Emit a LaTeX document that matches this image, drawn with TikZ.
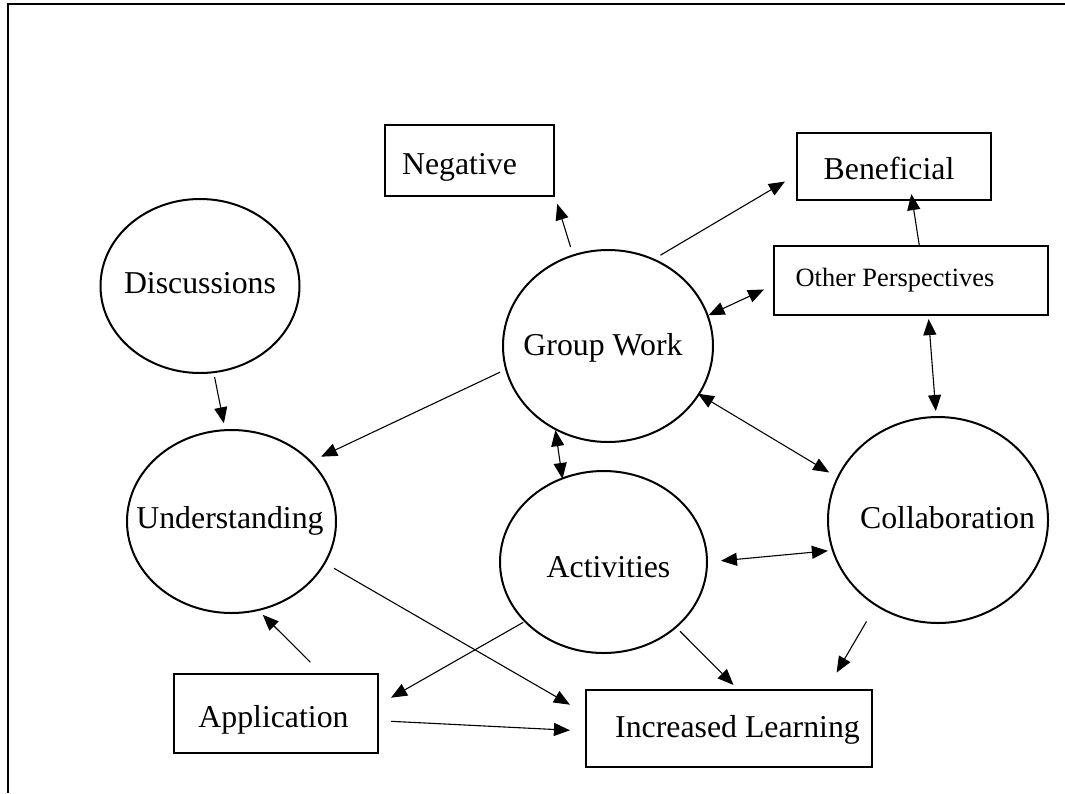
\documentclass[tikz,border=0pt]{standalone}
\usepackage{fontspec}
\setmainfont{Liberation Serif}
\usetikzlibrary{arrows.meta,shapes.geometric}

\begin{document}
\begin{tikzpicture}[x=1pt,y=-1pt,
  oval/.style={draw, ellipse, line width=2pt, inner sep=0pt},
  box/.style={draw, rectangle, line width=2.2pt, inner sep=0pt},
  txt/.style={font=\fontsize{31.8pt}{36pt}\selectfont, anchor=base, inner sep=0pt},
  smalltxt/.style={font=\fontsize{26.4pt}{30pt}\selectfont, anchor=base, inner sep=0pt},
  tip/.tip={Triangle[length=16pt,width=13pt]},
  link/.style={line width=1.1pt, -tip},
  both/.style={line width=1.1pt, tip-tip},
]
\useasboundingbox (0,0) rectangle (1065,793);

% page frame (top and left rules)
\draw[line width=2.2pt] (1065,4) -- (8,4) -- (8,793);

% circles
\node[oval, minimum width=199pt, minimum height=174pt] (disc) at (200,286) {};
\node[oval, minimum width=209pt, minimum height=183pt] (und)  at (231.5,521.5) {};
\node[oval, minimum width=210pt, minimum height=192pt] (gw)   at (608,346) {};
\node[oval, minimum width=207pt, minimum height=182pt] (act)  at (603.5,562) {};
\node[oval, minimum width=220pt, minimum height=206pt] (col)  at (938,520) {};

% boxes
\node[box, minimum width=169pt, minimum height=71pt] (neg) at (469.5,160.5) {};
\node[box, minimum width=194pt, minimum height=67pt] (ben) at (894,166.5) {};
\node[box, minimum width=274pt, minimum height=69pt] (oth) at (911,280.5) {};
\node[box, minimum width=204pt, minimum height=79pt] (app) at (276,713.5) {};
\node[box, minimum width=286pt, minimum height=77pt] (inc) at (729,728.5) {};

% labels
\node[txt] (discT) at ([shift={(0,7)}]disc.center) {Discussions};
\node[txt] (undT)  at ([shift={(-1.5,6.5)}]und.center) {Understanding};
\node[txt] (gwT)   at ([shift={(-5,9)}]gw.center) {Group Work};
\node[txt] (actT)  at ([shift={(5,15)}]act.center) {Activities};
\node[txt] (colT)  at ([shift={(9.5,8)}]col.center) {Collaboration};
\node[txt] (negT)  at ([shift={(-10,13.5)}]neg.center) {Negative};
\node[txt] (benT)  at ([shift={(-5,12.5)}]ben.center) {Beneficial};
\node[smalltxt] (othT) at ([shift={(-16,5.5)}]oth.center) {Other Perspectives};
\node[txt] (appT)  at ([shift={(-2.5,13.5)}]app.center) {Application};
\node[txt] (incT)  at ([shift={(8.5,8.5)}]inc.center) {Increased Learning};

% connectors
\draw[link, shorten <=7.8pt, shorten >=7.4pt] (gw.111) -- (neg.-23);
\draw[link, shorten <=7.1pt, shorten >=12.8pt] (gw.62) -- (ben.185);
\draw[link, shorten >=-7.1pt] (oth.77) -- (ben.-62);
\draw[both, shorten >=9.8pt] (gw.17) -- (oth.182);
\draw[both, shorten <=3pt, shorten >=5pt] (oth.-64) -- (col.91);
\draw[both, shorten <=-2pt, shorten >=9pt] (gw.-28) -- (col.157);
\draw[both, shorten >=-1.5pt] (gw.238) -- (act.116);
\draw[both, shorten <=13pt, shorten >=4pt] (act.0.5) -- (col.196);
\draw[link, shorten <=5.8pt, shorten >=10.6pt] (gw.193) -- (und.37);
\draw[link, shorten <=4pt, shorten >=6pt] (disc.-81) -- (und.94);
\draw[link, shorten <=9.8pt, shorten >=17.3pt] (und.-24) -- (inc.174);
\draw[link, shorten <=15.2pt, shorten >=5.6pt] (app.42) -- (und.-73);
\draw[link, shorten <=1pt, shorten >=13.7pt] (act.217) -- (app.5.5);
\draw[link, shorten <=12pt, shorten >=15pt] (app.-4) -- (inc.181);
\draw[link, shorten <=5pt, shorten >=5.6pt] (act.-42) -- (inc.78);
\draw[link, shorten <=18pt, shorten >=18.9pt] (col.234) -- (inc.22.5);
\end{tikzpicture}
\end{document}
